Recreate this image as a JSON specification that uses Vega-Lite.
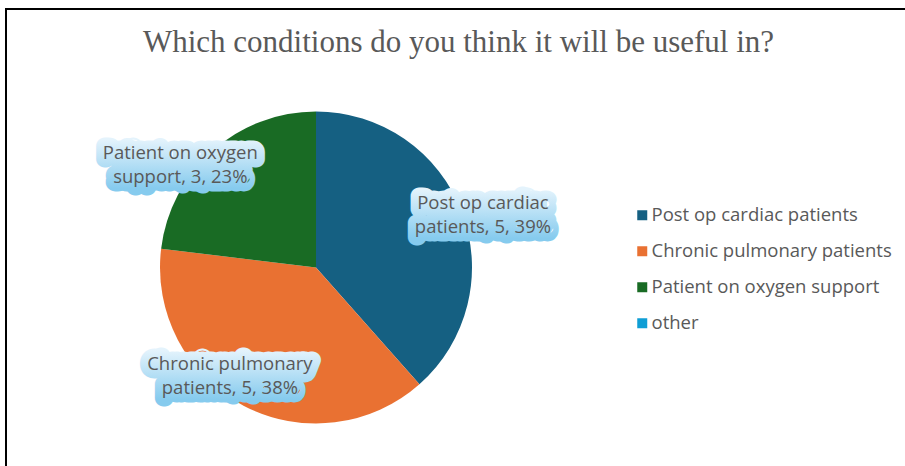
{
  "$schema": "https://vega.github.io/schema/vega-lite/v6.json",
  "padding": {"left": 5, "top": 8, "right": 0, "bottom": 0},
  "background": "white",
  "title": {
    "text": "Which conditions do you think it will be useful in?",
    "font": "Liberation Serif",
    "fontSize": 31,
    "fontWeight": "normal",
    "color": "#595959",
    "anchor": "middle",
    "baseline": "alphabetic",
    "offset": -44,
    "dy": 31,
    "dx": 3,
    "frame": "bounds"
  },
  "datasets": {
    "answers": [
      {"condition": "Post op cardiac patients", "count": 5, "rank": 1, "label": "Post op cardiac\npatients, 5, 39%"},
      {"condition": "Chronic pulmonary patients", "count": 5, "rank": 2, "label": "Chronic pulmonary\npatients, 5, 38%"},
      {"condition": "Patient on oxygen support", "count": 3, "rank": 3, "label": "Patient on oxygen\nsupport, 3, 23%"},
      {"condition": "other", "count": 0, "rank": 4, "label": "other, 0, 0%"}
    ]
  },
  "spacing": 0,
  "bounds": "flush",
  "hconcat": [
    {
      "width": 620,
      "height": 517,
      "view": {"stroke": "black", "strokeWidth": 2, "strokeDash": [620, 1137, 517]},
      "data": {"name": "answers"},
      "encoding": {
        "theta": {"field": "count", "type": "quantitative", "stack": true},
        "order": {"field": "rank", "type": "quantitative"},
        "detail": {"field": "condition", "type": "nominal"}
      },
      "layer": [
        {
          "mark": {"type": "arc", "outerRadius": 156},
          "encoding": {
            "color": {
              "field": "condition",
              "type": "nominal",
              "scale": {
                "domain": ["Post op cardiac patients", "Chronic pulmonary patients", "Patient on oxygen support", "other"],
                "range": ["#156082", "#E97132", "#196B24", "#0F9ED5"]
              },
              "legend": {
                "orient": "none",
                "legendX": 627,
                "legendY": 197,
                "title": null,
                "padding": 0,
                "symbolType": "square",
                "symbolSize": 100,
                "symbolStrokeWidth": 0,
                "labelFont": "Open Sans",
                "labelFontSize": 18.5,
                "labelColor": "#595959",
                "labelOffset": 0,
                "labelLimit": 400,
                "rowPadding": 17
              }
            }
          }
        },
        {
          "mark": {"type": "text", "radius": 170, "dx": 8, "dy": -4, "font": "Open Sans", "fontSize": 18.5, "lineHeight": 24, "lineBreak": "\n", "fill": "#c4e5f7", "strokeWidth": 17, "strokeJoin": "round",
            "stroke": {"gradient": "linear", "x1": 0, "y1": 0, "x2": 0, "y2": 1, "stops": [{"offset": 0, "color": "#e4f3fc"}, {"offset": 1, "color": "#86cbee"}]}},
          "encoding": {"text": {"condition": {"test": "datum.condition === 'Post op cardiac patients'", "field": "label"}, "value": ""}}
        },
        {
          "mark": {"type": "text", "radius": 170, "dx": 8, "dy": -4, "font": "Open Sans", "fontSize": 18.5, "lineHeight": 24, "lineBreak": "\n", "color": "#595959"},
          "encoding": {"text": {"condition": {"test": "datum.condition === 'Post op cardiac patients'", "field": "label"}, "value": ""}}
        },
        {
          "mark": {"type": "text", "radius": 125, "dx": -28, "dy": -14, "font": "Open Sans", "fontSize": 18.5, "lineHeight": 24, "lineBreak": "\n", "fill": "#c4e5f7", "strokeWidth": 17, "strokeJoin": "round",
            "stroke": {"gradient": "linear", "x1": 0, "y1": 0, "x2": 0, "y2": 1, "stops": [{"offset": 0, "color": "#e4f3fc"}, {"offset": 1, "color": "#86cbee"}]}},
          "encoding": {"text": {"condition": {"test": "datum.condition === 'Chronic pulmonary patients'", "field": "label"}, "value": ""}}
        },
        {
          "mark": {"type": "text", "radius": 125, "dx": -28, "dy": -14, "font": "Open Sans", "fontSize": 18.5, "lineHeight": 24, "lineBreak": "\n", "color": "#595959"},
          "encoding": {"text": {"condition": {"test": "datum.condition === 'Chronic pulmonary patients'", "field": "label"}, "value": ""}}
        },
        {
          "mark": {"type": "text", "radius": 170, "dx": -23, "dy": 13, "font": "Open Sans", "fontSize": 18.5, "lineHeight": 24, "lineBreak": "\n", "fill": "#c4e5f7", "strokeWidth": 17, "strokeJoin": "round",
            "stroke": {"gradient": "linear", "x1": 0, "y1": 0, "x2": 0, "y2": 1, "stops": [{"offset": 0, "color": "#e4f3fc"}, {"offset": 1, "color": "#86cbee"}]}},
          "encoding": {"text": {"condition": {"test": "datum.condition === 'Patient on oxygen support'", "field": "label"}, "value": ""}}
        },
        {
          "mark": {"type": "text", "radius": 170, "dx": -23, "dy": 13, "font": "Open Sans", "fontSize": 18.5, "lineHeight": 24, "lineBreak": "\n", "color": "#595959"},
          "encoding": {"text": {"condition": {"test": "datum.condition === 'Patient on oxygen support'", "field": "label"}, "value": ""}}
        }
      ]
    },
    {
      "width": 279,
      "height": 517,
      "view": {"stroke": "black", "strokeWidth": 2, "strokeDash": [279, 3000]},
      "data": {"name": "answers"},
      "mark": {"type": "point", "opacity": 0}
    }
  ]
}
